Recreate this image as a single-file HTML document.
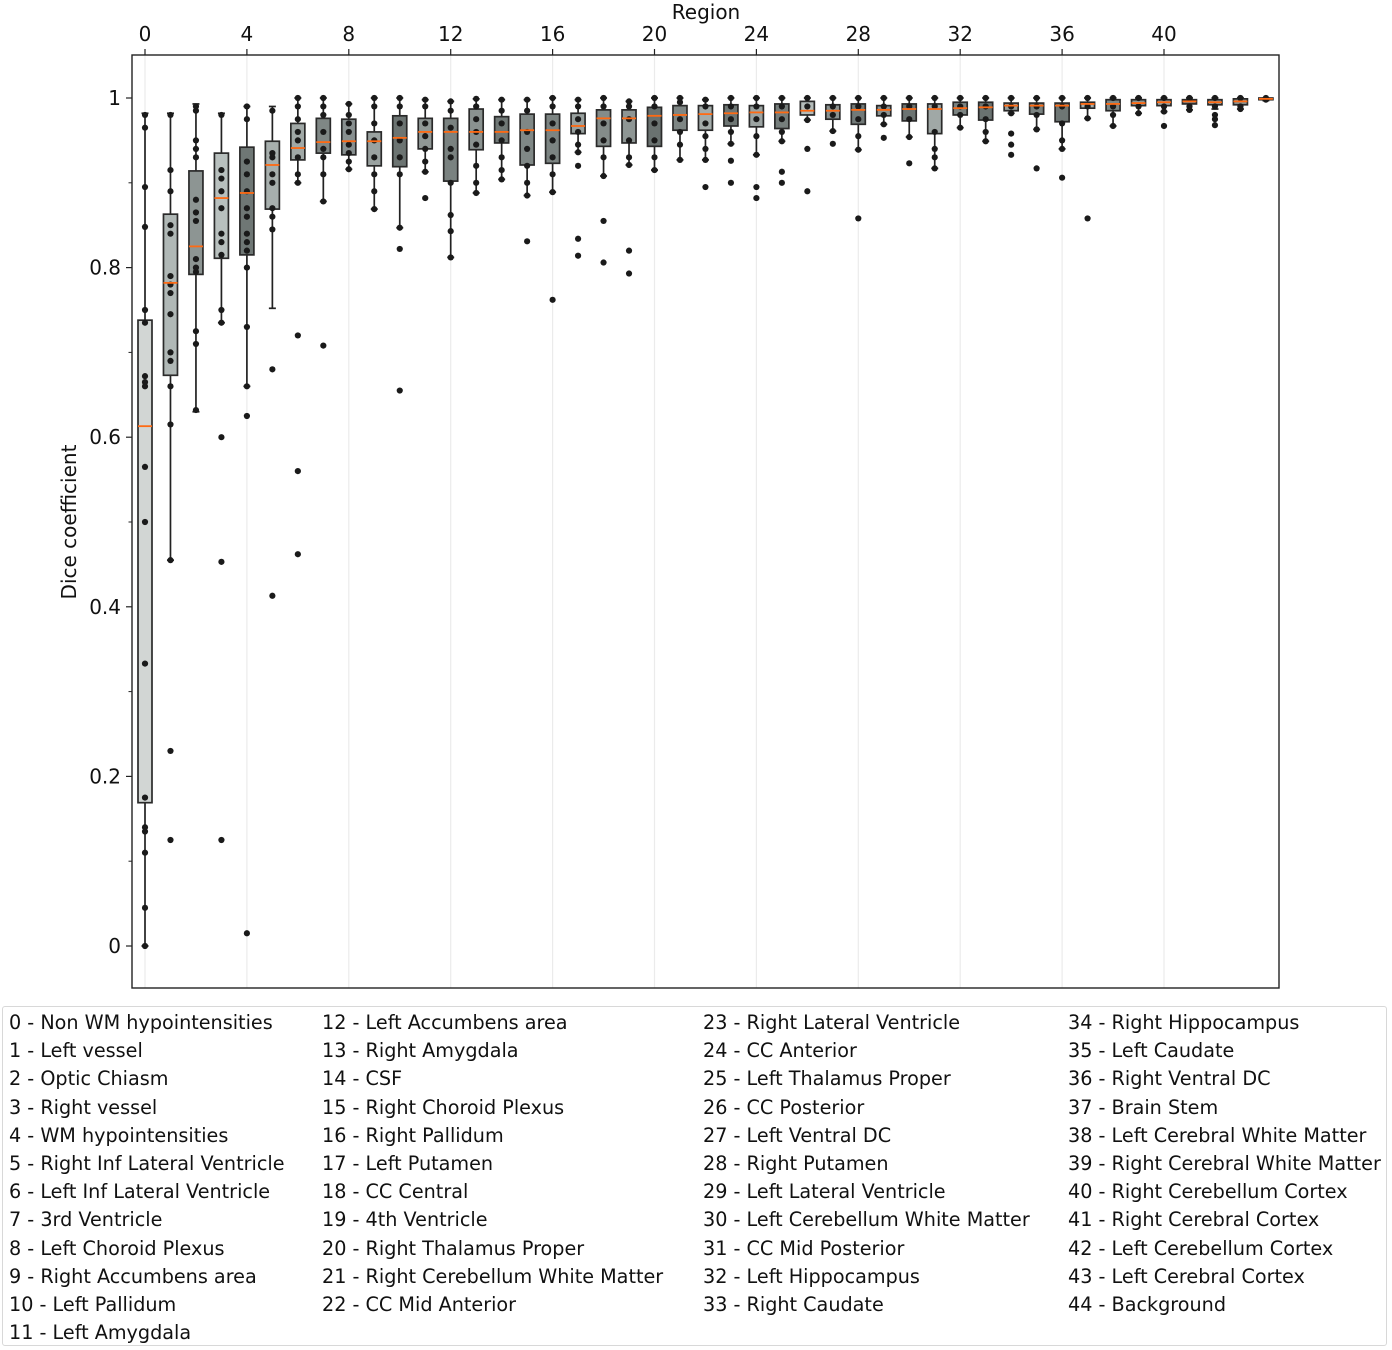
<!DOCTYPE html>
<html><head><meta charset="utf-8"><style>
body{margin:0;background:#fff;width:1392px;height:1350px;overflow:hidden;font-family:"DejaVu Sans","Liberation Sans",sans-serif;}
#legend{position:absolute;left:2px;top:1006px;width:1385px;height:340px;border:1px solid #d8d8d8;border-radius:3px;box-sizing:border-box;}
.col{position:absolute;top:2px;font-size:19.2px;color:#111;line-height:28.2px;white-space:nowrap;}
</style></head><body>
<svg id="chart" width="1392" height="1000" style="position:absolute;left:0;top:0" font-family="DejaVu Sans, Liberation Sans, sans-serif"></svg>
<div id="legend">
<div class="col" style="left:6px">0 - Non WM hypointensities<br>1 - Left vessel<br>2 - Optic Chiasm<br>3 - Right vessel<br>4 - WM hypointensities<br>5 - Right Inf Lateral Ventricle<br>6 - Left Inf Lateral Ventricle<br>7 - 3rd Ventricle<br>8 - Left Choroid Plexus<br>9 - Right Accumbens area<br>10 - Left Pallidum<br>11 - Left Amygdala</div>
<div class="col" style="left:319px">12 - Left Accumbens area<br>13 - Right Amygdala<br>14 - CSF<br>15 - Right Choroid Plexus<br>16 - Right Pallidum<br>17 - Left Putamen<br>18 - CC Central<br>19 - 4th Ventricle<br>20 - Right Thalamus Proper<br>21 - Right Cerebellum White Matter<br>22 - CC Mid Anterior</div>
<div class="col" style="left:700px">23 - Right Lateral Ventricle<br>24 - CC Anterior<br>25 - Left Thalamus Proper<br>26 - CC Posterior<br>27 - Left Ventral DC<br>28 - Right Putamen<br>29 - Left Lateral Ventricle<br>30 - Left Cerebellum White Matter<br>31 - CC Mid Posterior<br>32 - Left Hippocampus<br>33 - Right Caudate</div>
<div class="col" style="left:1065px">34 - Right Hippocampus<br>35 - Left Caudate<br>36 - Right Ventral DC<br>37 - Brain Stem<br>38 - Left Cerebral White Matter<br>39 - Right Cerebral White Matter<br>40 - Right Cerebellum Cortex<br>41 - Right Cerebral Cortex<br>42 - Left Cerebellum Cortex<br>43 - Left Cerebral Cortex<br>44 - Background</div>
</div>
<script>
const q1s=[0.169,0.673,0.792,0.811,0.815,0.869,0.927,0.935,0.933,0.920,0.919,0.940,0.902,0.939,0.947,0.921,0.923,0.958,0.943,0.947,0.943,0.962,0.962,0.967,0.966,0.964,0.980,0.975,0.969,0.979,0.973,0.958,0.980,0.974,0.985,0.981,0.972,0.988,0.985,0.991,0.991,0.993,0.992,0.992,0.998];
const medians=[0.613,0.782,0.825,0.882,0.888,0.921,0.941,0.948,0.949,0.949,0.953,0.960,0.960,0.960,0.960,0.962,0.962,0.967,0.976,0.976,0.979,0.980,0.981,0.982,0.983,0.983,0.985,0.985,0.986,0.986,0.987,0.987,0.988,0.989,0.991,0.991,0.991,0.993,0.993,0.994,0.995,0.996,0.995,0.996,0.999];
const q3s=[0.738,0.863,0.914,0.935,0.942,0.949,0.970,0.976,0.975,0.960,0.979,0.976,0.976,0.987,0.978,0.981,0.981,0.982,0.986,0.986,0.989,0.991,0.991,0.992,0.991,0.993,0.996,0.992,0.993,0.991,0.993,0.993,0.995,0.995,0.994,0.994,0.994,0.995,0.998,0.998,0.998,0.998,0.998,0.999,1.000];
const whiskLo=[0.0,0.455,0.630,0.735,0.660,0.752,0.900,0.878,0.916,0.869,0.847,0.913,0.812,0.888,0.904,0.885,0.889,0.936,0.908,0.921,0.915,0.927,0.927,0.946,0.933,0.949,0.974,0.961,0.939,0.969,0.954,0.917,0.965,0.949,0.982,0.963,0.940,0.976,0.967,0.982,0.984,0.986,0.987,0.987,0.997];
const whiskHi=[0.982,0.982,0.993,0.982,0.990,0.990,1.0,1.0,0.993,1.0,1.0,0.998,0.996,0.999,0.998,0.998,1.0,0.998,1.0,0.996,1.0,1.0,0.998,1.0,1.0,1.0,1.0,1.0,1.0,1.0,1.0,1.0,1.0,1.0,1.0,1.0,1.0,1.0,1.0,1.0,1.0,1.0,1.0,1.0,1.0];
const points=[
[0.98,0.965,0.895,0.848,0.75,0.735,0.672,0.665,0.66,0.565,0.5,0.333,0.175,0.14,0.135,0.11,0.045,0.0],
[0.98,0.915,0.89,0.85,0.84,0.79,0.78,0.77,0.745,0.70,0.69,0.66,0.615,0.455,0.23,0.125],
[0.99,0.985,0.95,0.94,0.93,0.88,0.865,0.855,0.81,0.80,0.795,0.725,0.71,0.632],
[0.98,0.915,0.905,0.89,0.87,0.84,0.83,0.815,0.75,0.735,0.60,0.453,0.125],
[0.99,0.975,0.925,0.91,0.89,0.87,0.86,0.84,0.83,0.82,0.80,0.73,0.66,0.625,0.015],
[0.985,0.935,0.93,0.91,0.9,0.87,0.86,0.845,0.68,0.413],
[1.0,0.99,0.975,0.96,0.95,0.93,0.91,0.9,0.72,0.56,0.462],
[1.0,0.99,0.98,0.96,0.94,0.93,0.91,0.878,0.708],
[0.993,0.98,0.97,0.96,0.945,0.935,0.925,0.916],
[1.0,0.99,0.97,0.95,0.93,0.91,0.89,0.869],
[1.0,0.99,0.97,0.95,0.93,0.91,0.847,0.822,0.655],
[0.998,0.99,0.97,0.955,0.94,0.925,0.913,0.882],
[0.996,0.985,0.965,0.94,0.93,0.9,0.862,0.843,0.812],
[0.999,0.99,0.975,0.96,0.945,0.92,0.9,0.888],
[0.998,0.985,0.97,0.95,0.93,0.915,0.904],
[0.998,0.985,0.96,0.94,0.92,0.9,0.885,0.831],
[1.0,0.99,0.97,0.95,0.93,0.91,0.889,0.762],
[0.998,0.99,0.975,0.96,0.945,0.936,0.92,0.834,0.814],
[1.0,0.99,0.97,0.95,0.93,0.908,0.855,0.806],
[0.996,0.99,0.975,0.95,0.93,0.921,0.82,0.793],
[1.0,0.99,0.97,0.95,0.93,0.915],
[1.0,0.995,0.975,0.96,0.945,0.927],
[0.998,0.99,0.97,0.955,0.94,0.927,0.895],
[1.0,0.99,0.975,0.96,0.946,0.926,0.9],
[1.0,0.99,0.975,0.955,0.933,0.895,0.882],
[1.0,0.99,0.975,0.96,0.949,0.913,0.9],
[1.0,0.99,0.974,0.94,0.89],
[1.0,0.99,0.98,0.961,0.946],
[1.0,0.99,0.975,0.955,0.939,0.858],
[1.0,0.99,0.98,0.969,0.953],
[1.0,0.99,0.975,0.954,0.923],
[1.0,0.99,0.96,0.94,0.93,0.917],
[1.0,0.99,0.98,0.965],
[1.0,0.99,0.975,0.96,0.949],
[1.0,0.99,0.982,0.958,0.945,0.933],
[1.0,0.99,0.98,0.963,0.917],
[1.0,0.99,0.97,0.95,0.94,0.906],
[1.0,0.99,0.976,0.858],
[1.0,0.99,0.98,0.967],
[1.0,0.99,0.982],
[1.0,0.99,0.984,0.967],
[1.0,0.99,0.986],
[1.0,0.99,0.98,0.975,0.968],
[1.0,0.99,0.987],
[1.0,0.998]];
const boxColors=["#d2d6d4","#b0b8b6","#8d9593","#b8c0be","#6f7775","#a7afad","#a0a8a6","#7f8785","#889090","#9aa2a0","#6c7472","#909896","#7a8280","#8a9290","#707876","#808886","#7c8482","#98a09e","#848c8a","#8e9694","#6a7270","#7e8684","#a4acaa","#6e7674","#9ca4a2","#767e7c","#b4bcba","#8a9290","#727a78","#8c9492","#6c7472","#a0a8a6","#7c8482","#6a7270","#949c9a","#7a8280","#6e7674","#a8b0ae","#7e8684","#8c9492","#9aa2a0","#787f7e","#929a98","#8a9290","#c0c6c4"];
const xTicks=[0,4,8,12,16,20,24,28,32,36,40];
const yTicks=[0,0.2,0.4,0.6,0.8,1];
const yTickLabels=["0","0.2","0.4","0.6","0.8","1"];
const yMinor=[0.1,0.3,0.5,0.7,0.9];

const NS="http://www.w3.org/2000/svg";
const svg=document.getElementById('chart');
const L=132,R=1279,T=55,B=988;
const xS=i=>145+i*25.475;
const yS=v=>946-v*848;
function mk(tag,attrs,parent){const e=document.createElementNS(NS,tag);for(const k in attrs)e.setAttribute(k,attrs[k]);(parent||svg).appendChild(e);return e;}

const grid=mk('g',{});


xTicks.forEach(t=>{mk('line',{x1:xS(t),x2:xS(t),y1:T,y2:B,stroke:'#ebebeb','stroke-width':1.2},grid);});

const axes=mk('g',{});


xTicks.forEach(t=>{
  mk('line',{x1:xS(t),x2:xS(t),y1:T,y2:T-6,stroke:'#222','stroke-width':1.2},axes);
  const tx=mk('text',{x:xS(t),y:41,'text-anchor':'middle','font-size':20,fill:'#111'},axes);
  tx.textContent=t;
  
  
});
yTicks.forEach((t,i)=>{
  mk('line',{x1:L,x2:L-6,y1:yS(t),y2:yS(t),stroke:'#222','stroke-width':1.2},axes);
  const tx=mk('text',{x:121,y:yS(t)+7,'text-anchor':'end','font-size':20,fill:'#111'},axes);
  tx.textContent=yTickLabels[i];
  
  
});
yMinor.forEach(t=>{mk('line',{x1:L,x2:L-3.5,y1:yS(t),y2:yS(t),stroke:'#222','stroke-width':1},axes);});
const xt=mk('text',{x:706,y:19,'text-anchor':'middle','font-size':20,fill:'#111'},axes);
xt.textContent='Region';


const yt=mk('text',{x:0,y:0,transform:'translate(76,522) rotate(-90)','text-anchor':'middle','font-size':20,fill:'#111'},axes);
yt.textContent='Dice coefficient';



const boxes=mk('g',{});


for(let i=0;i<q1s.length;i++){
  const g=mk('g',{},boxes);
  
  
  const x=xS(i),w=14;
  mk('line',{x1:x,x2:x,y1:yS(whiskHi[i]),y2:yS(q3s[i]),stroke:'#222','stroke-width':1.7},g);
  mk('line',{x1:x,x2:x,y1:yS(q1s[i]),y2:yS(whiskLo[i]),stroke:'#222','stroke-width':1.7},g);
  mk('line',{x1:x-3.5,x2:x+3.5,y1:yS(whiskHi[i]),y2:yS(whiskHi[i]),stroke:'#222','stroke-width':1.7},g);
  mk('line',{x1:x-3.5,x2:x+3.5,y1:yS(whiskLo[i]),y2:yS(whiskLo[i]),stroke:'#222','stroke-width':1.7},g);
  mk('rect',{x:x-w/2,y:yS(q3s[i]),width:w,height:Math.max(0.5,yS(q1s[i])-yS(q3s[i])),fill:boxColors[i],stroke:'#2a2a2a','stroke-width':1.7},g);
  points[i].forEach(v=>{mk('circle',{cx:x,cy:yS(v),r:3.1,fill:'#1a1a1a'},g);});
  mk('line',{x1:x-w/2,x2:x+w/2,y1:yS(medians[i]),y2:yS(medians[i]),stroke:'#ff6a13','stroke-width':1.8},g);
}
const frame=mk('rect',{x:L,y:T,width:R-L,height:B-T,fill:'none',stroke:'#222','stroke-width':1.4});


</script>
</body></html>
